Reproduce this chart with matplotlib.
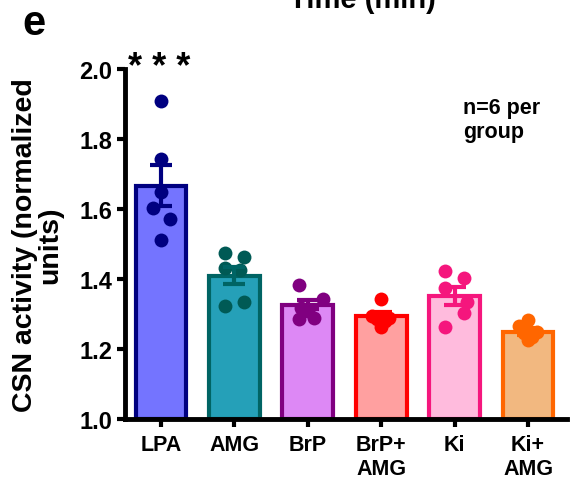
import numpy as np
import matplotlib
matplotlib.use("Agg")
import matplotlib.pyplot as plt

plt.rcParams['font.family'] = ['Liberation Sans', 'DejaVu Sans']
plt.rcParams['font.weight'] = 'bold'

groups = ["LPA", "AMG", "BrP", "BrP+\nAMG", "Ki", "Ki+\nAMG"]
means = [1.667, 1.410, 1.327, 1.293, 1.352, 1.250]
sems = [0.058, 0.025, 0.013, 0.012, 0.026, 0.010]

pts_lpa = [1.91, 1.743, 1.65, 1.603, 1.571, 1.511]
pts_amg = [1.474, 1.462, 1.432, 1.425, 1.324, 1.333]
pts_brp = [1.383, 1.343, 1.31, 1.317, 1.285, 1.29]
pts_brp_amg = [1.343, 1.295, 1.29, 1.285, 1.28, 1.263]
pts_ki = [1.422, 1.403, 1.373, 1.333, 1.302, 1.264]
pts_ki_amg = [1.283, 1.267, 1.248, 1.245, 1.235, 1.225]
points = [pts_lpa, pts_amg, pts_brp, pts_brp_amg, pts_ki, pts_ki_amg]

# horizontal scatter offsets of the individual animals within each bar
jitter = [
    [0.0, 0.0, 0.0, -0.38, 0.42, 0.0],
    [-0.42, 0.42, -0.42, 0.25, -0.42, 0.42],
    [-0.42, 0.68, 0.0, -0.3, -0.42, 0.3],
    [0.0, -0.42, 0.35, -0.18, 0.18, 0.0],
    [-0.42, 0.42, -0.42, 0.55, 0.42, -0.42],
    [0.0, -0.42, 0.42, -0.18, 0.18, 0.0],
]

fills = ["#7474FF", "#25A0B8", "#DD88F5", "#FFA0A0", "#FFBBDD", "#F2B880"]
edges = ["#000080", "#006464", "#800080", "#FF0000", "#F5167D", "#FF6600"]
dots = ["#000080", "#005A55", "#800080", "#FF0000", "#F5167D", "#FF6600"]

fig = plt.figure(figsize=(5.83, 4.81), dpi=100)
ax = fig.add_axes([125/583, 1-420/481, (567-125)/583, 350/481])

x = np.arange(len(groups))
width = 0.69
ax.bar(x, [m - 1.0 for m in means], bottom=1.0, width=width, color=fills,
       edgecolor=edges, linewidth=3, zorder=2)

for i in x:
    xs = i + np.array(jitter[i]) * 0.3
    ax.scatter(xs, points[i], s=100, color=dots[i], zorder=3, linewidths=0)
    ax.errorbar(i, means[i], yerr=sems[i], fmt='none', ecolor=edges[i],
                elinewidth=3, capsize=8, capthick=3, zorder=4)

ax.set_ylim(1.0, 2.0)
ax.set_xlim(-0.49, 5.53)
ax.set_yticks([1.0, 1.2, 1.4, 1.6, 1.8, 2.0])
ax.set_yticklabels(["1.0", "1.2", "1.4", "1.6", "1.8", "2.0"], fontsize=17, fontweight='bold')
ax.set_xticks(x)
ax.set_xticklabels(groups, fontsize=15.5, fontweight='bold', linespacing=1.15)
ax.tick_params(axis='both', direction='out', width=3, length=6)
ax.tick_params(axis='x', pad=5)
ax.tick_params(axis='y', pad=3)
for s in ['top', 'right']:
    ax.spines[s].set_visible(False)
for s in ['left', 'bottom']:
    ax.spines[s].set_linewidth(3.5)

ax.set_ylabel("CSN activity (normalized\nunits)", fontsize=20.5, fontweight='bold',
              linespacing=0.95)
ax.yaxis.set_label_coords(-0.14, 0.5)

ax.text(-0.03, 1.955, "* * *", ha='center', va='bottom', fontsize=26, fontweight='bold',
        clip_on=False)
ax.text(4.11, 1.855, "n=6 per\ngroup", ha='left', va='center', fontsize=15.5,
        fontweight='bold', linespacing=1.2)

fig.text(22/583, 1-35/481, "e", fontsize=30, fontweight='bold', ha='left', va='baseline')
fig.text(362/583, 1-8/481, "Time (min)", fontsize=21, fontweight='bold', ha='center',
         va='baseline')

fig.savefig("out.png", dpi=100)
